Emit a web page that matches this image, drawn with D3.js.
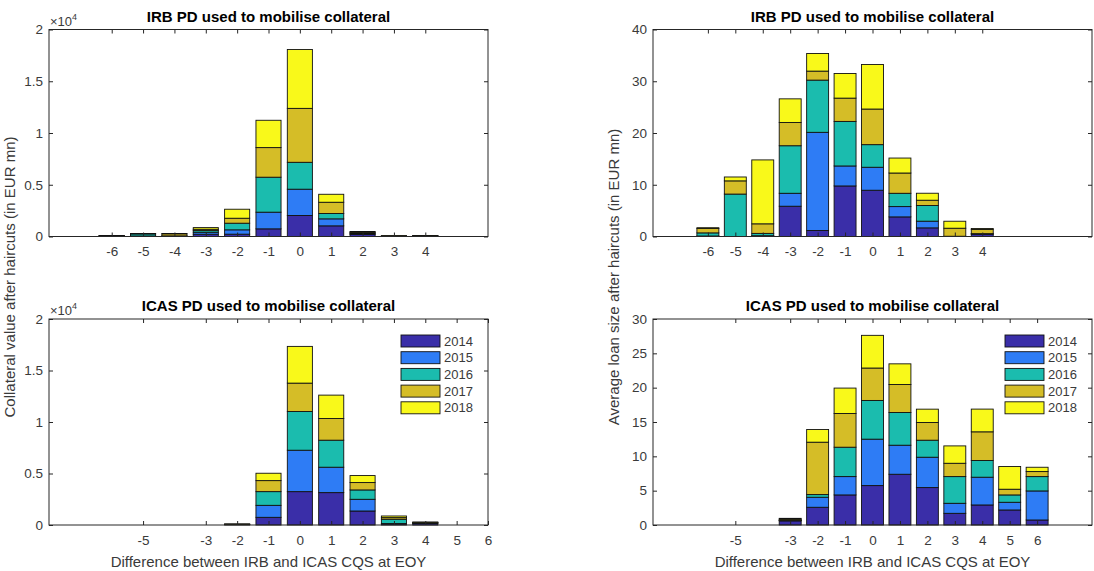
<!DOCTYPE html>
<html>
<head>
<meta charset="utf-8">
<script src="https://cdn.jsdelivr.net/npm/d3@7"></script>
<style>
  body { margin: 0; background: #fff; }
  text { font-family: "Liberation Sans", Arial, Helvetica, sans-serif; }
</style>
</head>
<body>
<svg id="chart" width="1094" height="571"></svg>
<script>
// series (one row per year)
var years = ["2014", "2015", "2016", "2017", "2018"];
var yearColors = ["#3a2ea8", "#2e7cf5", "#1bbcae", "#d5bd27", "#f9f91a"];

// categories: difference between IRB and ICAS CQS
var irbDiffs = [-6, -5, -4, -3, -2, -1, 0, 1, 2, 3, 4];
var icasCollDiffs = [-2, -1, 0, 1, 2, 3, 4];
var icasLoanDiffs = [-3, -2, -1, 0, 1, 2, 3, 4, 5, 6];

// tick labels
var irbTicks = [-6, -5, -4, -3, -2, -1, 0, 1, 2, 3, 4];
var icasTicks = [-5, -3, -2, -1, 0, 1, 2, 3, 4, 5, 6];
var collTicks = [0, 5000, 10000, 15000, 20000];
var loanIrbTicks = [0, 10, 20, 30, 40];
var loanIcasTicks = [0, 5, 10, 15, 20, 25, 30];

// collateral value after haircuts, IRB PD (EUR mn)
var collIrb = [
  [30, 30, 20, 220, 225, 740, 2030, 1030, 200, 20, 30],
  [20, 20, 10, 190, 420, 1610, 2540, 675, 80, 10, 15],
  [20, 200, 30, 160, 640, 3380, 2600, 515, 70, 15, 15],
  [15, 30, 200, 130, 480, 2860, 5210, 1090, 70, 15, 15],
  [15, 10, 30, 160, 870, 2640, 5690, 770, 60, 10, 15]
];
// collateral value after haircuts, ICAS PD (EUR mn)
var collIcas = [
  [40, 745, 3240, 3145, 1360, 110, 150],
  [15, 1165, 4020, 2465, 1135, 30, 40],
  [15, 1330, 3760, 2625, 910, 420, 40],
  [15, 1070, 2755, 2105, 715, 155, 30],
  [15, 715, 3565, 2270, 680, 160, 30]
];
// average loan size, IRB PD (EUR mn)
var loanIrb = [
  [0.05, 0, 0.1, 5.85, 1.16, 9.77, 8.94, 3.79, 1.67, 0.05, 0.45],
  [0.05, 0, 0.05, 2.5, 18.97, 3.86, 4.44, 1.99, 1.29, 0, 0.05],
  [0.6, 8.2, 0.45, 9.19, 10.09, 8.61, 4.37, 2.57, 3.02, 0, 0.05],
  [0.85, 2.55, 1.85, 4.5, 1.74, 4.5, 6.88, 3.92, 1.03, 1.55, 0.8],
  [0.15, 0.75, 12.35, 4.56, 3.41, 4.76, 8.61, 2.89, 1.35, 1.35, 0.2]
];
// average loan size, ICAS PD (EUR mn)
var loanIcas = [
  [0.6, 2.58, 4.38, 5.74, 7.39, 5.45, 1.70, 2.92, 2.19, 0.73],
  [0.05, 1.46, 2.67, 6.76, 4.23, 4.42, 1.46, 4.04, 1.12, 4.23],
  [0.05, 0.39, 4.28, 5.64, 4.76, 2.48, 3.89, 2.43, 1.07, 2.09],
  [0.15, 7.63, 4.91, 4.72, 4.08, 2.58, 1.94, 4.18, 0.83, 0.73],
  [0.12, 1.85, 3.70, 4.76, 3.01, 1.94, 2.53, 3.31, 3.31, 0.63]
];

var svg = d3.select("#chart");
var textColor = "#3a3a3a";
var axisColor = "#262626";

function drawPanel(p) {
    var g = svg.append("g").attr("transform", "translate(" + p.left + "," + p.top + ")");

    var x = d3.scaleLinear().domain(p.xDomain).range([0, p.width]);
    var y = d3.scaleLinear().domain([0, p.yMax]).range([p.height, 0]);

    // table for the stack
    var table = p.cats.map(function (c, i) {
        var row = { diff: c };
        years.forEach(function (yr, k) { row[yr] = p.rows[k][i]; });
        return row;
    });
    var series = d3.stack().keys(years)(table);
    var bw = x(0.8) - x(0);

    series.forEach(function (s, k) {
        g.append("g").selectAll("rect").data(s).enter().append("rect")
            .attr("x", function (d) { return x(d.data.diff) - bw / 2; })
            .attr("y", function (d) { return y(d[1]); })
            .attr("width", bw)
            .attr("height", function (d) { return Math.max(0, y(d[0]) - y(d[1])); })
            .attr("fill", yearColors[k])
            .attr("stroke", "#111")
            .attr("stroke-width", 0.9);
    });

    // axes, ticks pointing inwards on all four sides
    var fmt = p.exponent ? function (d) { return String(d / 1e4); } : function (d) { return String(d); };
    var bottom = g.append("g").attr("transform", "translate(0," + p.height + ")")
        .call(d3.axisBottom(x).tickValues(p.xTicks).tickSize(-4).tickPadding(10)
            .tickFormat(function (d) { return String(d); }));
    var top = g.append("g")
        .call(d3.axisTop(x).tickValues(p.xTicks).tickSize(-4).tickFormat(""));
    var left = g.append("g")
        .call(d3.axisLeft(y).tickValues(p.yTicks).tickSize(-4).tickPadding(6).tickFormat(fmt));
    var right = g.append("g").attr("transform", "translate(" + p.width + ",0)")
        .call(d3.axisRight(y).tickValues(p.yTicks).tickSize(-4).tickFormat(""));

    [bottom, top, left, right].forEach(function (a) {
        a.select(".domain").remove();
        a.selectAll("line").attr("stroke", axisColor);
        a.selectAll("text").attr("fill", textColor).style("font-size", "13.5px");
    });

    g.append("rect")
        .attr("width", p.width).attr("height", p.height)
        .attr("fill", "none").attr("stroke", axisColor).attr("stroke-width", 1);

    if (p.exponent) {
        var ex = g.append("text").attr("x", 1).attr("y", -4)
            .attr("fill", textColor).style("font-size", "13px");
        ex.append("tspan").text("\u00d710");
        ex.append("tspan").attr("dy", -6).style("font-size", "9px").text("4");
    }

    g.append("text")
        .attr("x", p.width / 2).attr("y", -8)
        .attr("text-anchor", "middle")
        .attr("fill", "#000")
        .style("font-size", "15px").style("font-weight", "bold")
        .text(p.title);

    if (p.xlabel) {
        g.append("text")
            .attr("x", p.width / 2).attr("y", p.height + 42)
            .attr("text-anchor", "middle")
            .attr("fill", textColor)
            .style("font-size", "15px")
            .text(p.xlabel);
    }

    if (p.legend) {
        var lg = g.append("g").attr("transform", "translate(" + (p.width - 87) + ",22)");
        years.forEach(function (yr, k) {
            lg.append("rect")
                .attr("x", 0).attr("y", k * 16.7 - 6)
                .attr("width", 39).attr("height", 12)
                .attr("fill", yearColors[k]).attr("stroke", "#111").attr("stroke-width", 0.9);
            lg.append("text")
                .attr("x", 43).attr("y", k * 16.7 + 4.5)
                .attr("fill", textColor).style("font-size", "13px")
                .text(yr);
        });
    }
}

drawPanel({ left: 49, top: 29.5, width: 439, height: 207, xDomain: [-8, 6], yMax: 20000,
    yTicks: collTicks, exponent: true, cats: irbDiffs, rows: collIrb, xTicks: irbTicks,
    title: "IRB PD used to mobilise collateral" });
drawPanel({ left: 653, top: 29.5, width: 439, height: 207, xDomain: [-8, 8], yMax: 40,
    yTicks: loanIrbTicks, exponent: false, cats: irbDiffs, rows: loanIrb, xTicks: irbTicks,
    title: "IRB PD used to mobilise collateral" });
drawPanel({ left: 49, top: 319, width: 439, height: 206, xDomain: [-8, 6], yMax: 20000,
    yTicks: collTicks, exponent: true, cats: icasCollDiffs, rows: collIcas, xTicks: icasTicks,
    title: "ICAS PD used to mobilise collateral",
    xlabel: "Difference between IRB and ICAS CQS at EOY", legend: true });
drawPanel({ left: 653, top: 319, width: 439, height: 206, xDomain: [-8, 8], yMax: 30,
    yTicks: loanIcasTicks, exponent: false, cats: icasLoanDiffs, rows: loanIcas, xTicks: icasTicks,
    title: "ICAS PD used to mobilise collateral",
    xlabel: "Difference between IRB and ICAS CQS at EOY", legend: true });

// shared y labels
svg.append("text")
    .attr("transform", "translate(15,277) rotate(-90)")
    .attr("text-anchor", "middle").attr("fill", textColor)
    .style("font-size", "15px")
    .text("Collateral value after haircuts (in EUR mn)");
svg.append("text")
    .attr("transform", "translate(619,277) rotate(-90)")
    .attr("text-anchor", "middle").attr("fill", textColor)
    .style("font-size", "15px")
    .text("Average loan size after haircuts (in EUR mn)");
</script>
</body>
</html>
